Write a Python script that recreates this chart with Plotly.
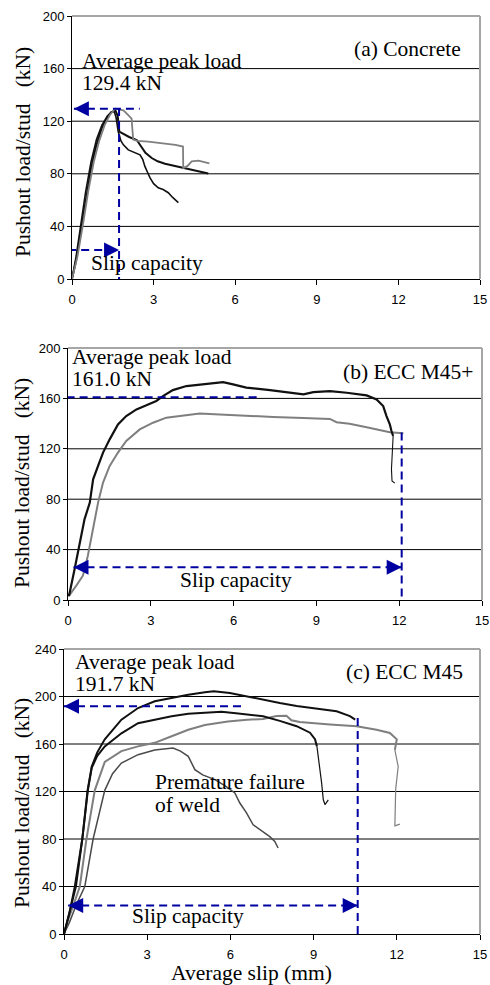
import plotly.graph_objects as go

# ---------------- data ----------------
x_ticks = [0, 3, 6, 9, 12, 15]
y_ticks_a = [0, 40, 80, 120, 160, 200]
y_ticks_b = [0, 40, 80, 120, 160, 200]
y_ticks_c = [0, 40, 80, 120, 160, 200, 240]

# (a) Concrete
a1_x = [0, 0.15, 0.3, 0.5, 0.7, 0.9, 1.1, 1.3, 1.45, 1.6, 1.68, 1.74, 1.9, 2.1, 2.38, 2.55, 2.7, 2.93, 3.15, 3.42, 3.8, 4.15, 4.6, 5.01]
a1_y = [0, 14, 33, 60, 84, 102, 115, 123, 127, 128, 124, 112, 110, 108, 105.7, 101, 96, 92, 89.5, 87.7, 86, 84, 82, 80.2]
a2_x = [0, 0.15, 0.3, 0.5, 0.7, 0.9, 1.1, 1.3, 1.45, 1.55, 1.62, 1.7, 1.8, 1.89, 2.07, 2.3, 2.5, 2.6, 2.68, 2.78, 2.87, 3.0, 3.17, 3.35, 3.54, 3.7, 3.91]
a2_y = [0, 17, 38, 66, 89, 106, 117, 124, 127, 127.5, 123, 112, 105, 102, 98.2, 96, 94.4, 91, 85.6, 81, 76.9, 72.5, 69.4, 68, 65.6, 62, 58.1]
a3_x = [0, 0.2, 0.4, 0.6, 0.8, 1.0, 1.2, 1.4, 1.58, 1.75, 1.89, 2.05, 2.19, 2.25, 2.4, 2.8, 3.42, 3.8, 4.08, 4.09, 4.25, 4.4, 4.65, 4.85, 5.05]
a3_y = [0, 17, 41, 67, 89, 105, 117, 125, 129.5, 129, 128.3, 125, 122, 106, 105, 104.4, 103.2, 102, 100.7, 84.4, 86, 89.4, 90, 89, 88]

# (b) ECC M45+
b1_x = [0, 0.04, 0.24, 0.42, 0.6, 0.79, 0.91, 1.09, 1.27, 1.51, 1.81, 2.11, 2.48, 2.84, 3.2, 3.44, 3.8, 4.29, 4.77, 5.25, 5.62, 5.98, 6.46, 7.32, 8.04, 8.53, 8.89, 9.49, 10.1, 10.82, 11.18, 11.42, 11.54, 11.66, 11.72, 11.78, 11.76, 11.72, 11.74, 11.84]
b1_y = [5, 3.5, 24.6, 45.8, 64.2, 77.3, 95.8, 106.4, 117, 127.5, 139.4, 146, 151.3, 154.5, 158, 161.8, 166.6, 169.8, 171.1, 171.9, 172.9, 171.1, 168.5, 166.6, 164.5, 163.2, 165, 165.8, 164.5, 162.4, 159.2, 153.9, 146, 139.4, 134.1, 130.2, 117, 103.8, 94.5, 92.7]
b2_x = [0, 0.04, 0.3, 0.54, 0.72, 0.91, 1.09, 1.27, 1.51, 1.81, 2.11, 2.6, 3.08, 3.56, 4.17, 4.77, 5.5, 6.46, 7.43, 8.53, 9.49, 9.73, 10.2, 10.82, 11.42, 11.66, 12.15]
b2_y = [4, 3.5, 11.4, 19.3, 35.2, 56.3, 77.3, 93.2, 106.4, 117, 126.2, 135.4, 140.7, 144.7, 146.5, 148.1, 147.3, 146, 145.2, 144.5, 143.7, 141.1, 139.8, 137.1, 134.5, 133.2, 132.4]

# (c) ECC M45
c1_x = [0, 0.2, 0.39, 0.66, 0.85, 1.0, 1.2, 1.47, 2.07, 2.67, 3.27, 3.88, 4.48, 5.08, 5.4, 5.98, 6.6, 7.18, 7.78, 8.39, 9.11, 9.83, 10.31, 10.5]
c1_y = [0, 18, 40, 80, 121, 141, 153, 164, 180.5, 190.3, 196, 198.7, 201.5, 203.5, 204.5, 203, 200, 197.3, 194.5, 192, 190, 187.5, 183.5, 180.5]
c2_x = [0, 0.2, 0.43, 0.66, 0.86, 1.0, 1.2, 1.47, 2.07, 2.67, 3.27, 3.88, 4.48, 5.08, 5.68, 6.2, 7.18, 7.78, 8.39, 8.87, 9.05, 9.12, 9.17, 9.29, 9.35, 9.41, 9.53]
c2_y = [0, 19, 40, 80, 121, 140, 150, 158, 169, 177.5, 180.5, 183.3, 185.5, 186.6, 187.2, 186, 183.3, 179.5, 175, 169.5, 164, 158, 149.6, 127, 113, 109, 113]
c3_x = [0, 0.15, 0.35, 0.57, 0.81, 1.11, 1.47, 2.07, 2.67, 3.27, 3.88, 4.48, 5.08, 5.91, 6.6, 7.18, 7.66, 8.02, 8.2, 8.5, 9.59, 10.55, 11.27, 11.75, 12.0, 11.93, 12.05, 11.96, 11.93, 12.11]
c3_y = [0, 12, 25, 40, 80, 121, 145, 154, 158, 161, 166.5, 172, 176, 179, 180.5, 181, 183.5, 183.8, 180, 178.5, 176.5, 175, 172, 169.3, 164, 155, 141, 122, 91, 92.5]
c4_x = [0, 0.2, 0.45, 0.75, 1.05, 1.47, 1.75, 2.07, 2.67, 3.27, 3.93, 4.2, 4.48, 4.72, 5.0, 5.44, 5.8, 6.16, 6.34, 6.58, 6.82, 7.06, 7.42, 7.6, 7.72]
c4_y = [0, 10, 25, 40, 80, 121, 135, 144, 151, 155, 156.6, 154, 149.6, 138.4, 134, 130, 125, 118.8, 110.3, 102, 92, 88, 82, 78, 72.4]

# annotation values
panel_titles = ["(a) Concrete", "(b) ECC M45+", "(c) ECC M45"]
peak_load = [129.4, 161.0, 191.7]
peak_labels = ["129.4 kN", "161.0 kN", "191.7 kN"]
peak_arrow_tip = [0.07, -0.05, 0.0]
peak_arrow_end = [2.49, 6.85, 6.4]
slip_capacity = [1.73, 12.09, 10.59]
slip_line_top = [130, 133, 182]
slip_arrow_y = [22, 26, 24]
slip_arrow_start = [-0.14, 0.2, 0.15]
y_ranges = [[0, 200], [0, 200], [0, 240]]

# ---------------- style ----------------
W, H = 490, 985
SERIF = "Liberation Serif, Times New Roman, serif"
SANS = "Liberation Sans, Arial, sans-serif"
BLUE = "#0000a0"
BLACK = "#111111"
GRAY = "#7f7f7f"
DGRAY = "#4a4a4a"

# plot areas in pixels (left, right, top, bottom)
areas = [(72, 480, 16, 279), (68, 482, 348, 600), (64, 480, 649, 934)]


def px(x):
    return x / W


def py(y):
    return 1 - y / H


fig = go.Figure()

# (x, y, colour, main width, index where thin tail starts or None, tail width)
series = [
    [(a1_x, a1_y, BLACK, 2, None, 0), (a2_x, a2_y, BLACK, 1.6, None, 0), (a3_x, a3_y, GRAY, 1.8, None, 0)],
    [(b2_x, b2_y, GRAY, 2, None, 0), (b1_x, b1_y, BLACK, 2.2, 35, 1.1)],
    [(c4_x, c4_y, DGRAY, 1.5, None, 0), (c3_x, c3_y, GRAY, 2, 25, 1.2),
     (c2_x, c2_y, BLACK, 2, 21, 1.2), (c1_x, c1_y, BLACK, 2, None, 0)],
]
y_ticks = [y_ticks_a, y_ticks_b, y_ticks_c]

shapes = []
annotations = []

for i in range(3):
    xa = "x" if i == 0 else f"x{i+1}"
    ya = "y" if i == 0 else f"y{i+1}"
    for sx, sy, col, w, k, tw in series[i]:
        if k is None:
            parts = [(sx, sy, w)]
        else:
            parts = [(sx[:k + 1], sy[:k + 1], w), (sx[k:], sy[k:], tw)]
        for px_, py_, ww in parts:
            fig.add_trace(go.Scatter(x=px_, y=py_, mode="lines", xaxis=xa, yaxis=ya,
                                     line=dict(color=col, width=ww), hoverinfo="skip",
                                     showlegend=False))
    dash = dict(color=BLUE, width=2, dash="8px,5px")
    fig.add_trace(go.Scatter(x=[peak_arrow_tip[i], peak_arrow_end[i]], y=[peak_load[i], peak_load[i]],
                             mode="lines", xaxis=xa, yaxis=ya, line=dash, showlegend=False, hoverinfo="skip"))
    fig.add_trace(go.Scatter(x=[slip_capacity[i], slip_capacity[i]], y=[slip_line_top[i], 0],
                             mode="lines", xaxis=xa, yaxis=ya, line=dash, showlegend=False, hoverinfo="skip"))
    fig.add_trace(go.Scatter(x=[slip_arrow_start[i], slip_capacity[i]], y=[slip_arrow_y[i], slip_arrow_y[i]],
                             mode="lines", xaxis=xa, yaxis=ya, line=dash, showlegend=False, hoverinfo="skip"))

    for (x, y, ax) in [(peak_arrow_tip[i], peak_load[i], 10),
                       (slip_arrow_start[i], slip_arrow_y[i], 10),
                       (slip_capacity[i], slip_arrow_y[i], -10)]:
        annotations.append(dict(x=x, y=y, xref=xa, yref=ya, ax=ax, ay=0, text="",
                                showarrow=True, arrowhead=2, arrowsize=1.5, arrowwidth=2,
                                arrowcolor=BLUE, standoff=0))

    for v in y_ticks[i][1:-1]:
        shapes.append(dict(type="line", xref=f"{xa} domain", x0=0, x1=1, yref=ya, y0=v, y1=v,
                           line=dict(color="black", width=1), layer="below"))
    l, r, t, b = areas[i]
    shapes.append(dict(type="line", xref="paper", yref="paper", x0=px(l), x1=px(r), y0=py(t), y1=py(t),
                       line=dict(color="#a6a6a6", width=2), layer="above"))
    shapes.append(dict(type="line", xref="paper", yref="paper", x0=px(r), x1=px(r), y0=py(t), y1=py(b),
                       line=dict(color="#a6a6a6", width=2), layer="above"))

    axis_common = dict(showline=True, linecolor="black", linewidth=1, ticks="outside",
                       tickcolor="black", showgrid=False, zeroline=False, automargin=False,
                       tickfont=dict(family=SANS, size=13, color="black"), fixedrange=True)
    fig.layout[f"xaxis{'' if i == 0 else i+1}"] = dict(
        domain=[px(l), px(r)], anchor=ya, range=[0, 15], tickmode="array", tickvals=x_ticks,
        ticklen=5, ticklabelstandoff=3, **axis_common)
    fig.layout[f"yaxis{'' if i == 0 else i+1}"] = dict(
        domain=[py(b), py(t)], anchor=xa, range=y_ranges[i], tickmode="array", tickvals=y_ticks[i],
        ticklen=4, **axis_common)

# ---------------- text ----------------
tfont = dict(family=SERIF, size=21.5, color="black")


def label(text, x, y, xanchor="left", angle=0):
    annotations.append(dict(text=text, x=px(x), y=py(y), xref="paper", yref="paper",
                            xanchor=xanchor, yanchor="middle", showarrow=False,
                            font=tfont, textangle=angle, borderpad=0))


peak_text_pos = [(81, 61, 83), (71, 357, 379), (74, 662, 684)]
title_pos = [(462, 49), (474, 372), (464, 672)]
slip_text_pos = [(147, 263), (236, 580), (188, 916)]
ytitle_pos = [(23, 152), (22, 483), (22, 803)]

for i in range(3):
    xl, y1, y2 = peak_text_pos[i]
    label("Average peak load", xl, y1)
    label(peak_labels[i], xl, y2)
    label(panel_titles[i], title_pos[i][0], title_pos[i][1], xanchor="right")
    label("Slip capacity", slip_text_pos[i][0], slip_text_pos[i][1], xanchor="center")
    label("Pushout load/stud\u00a0\u00a0\u00a0(kN)", ytitle_pos[i][0], ytitle_pos[i][1],
          xanchor="center", angle=-90)

label("Premature failure", 154, 782)
label("of weld", 154, 805)
label("Average slip (mm)", 252, 973, xanchor="center")

fig.update_layout(width=W, height=H,
                  margin=dict(l=0, r=0, t=0, b=0, pad=0, autoexpand=False),
                  paper_bgcolor="white", plot_bgcolor="white",
                  shapes=shapes, annotations=annotations, showlegend=False)

fig.write_html("out.html", config={"displayModeBar": False},
               post_script="document.body.style.margin='0px';document.body.style.overflow='hidden';")
